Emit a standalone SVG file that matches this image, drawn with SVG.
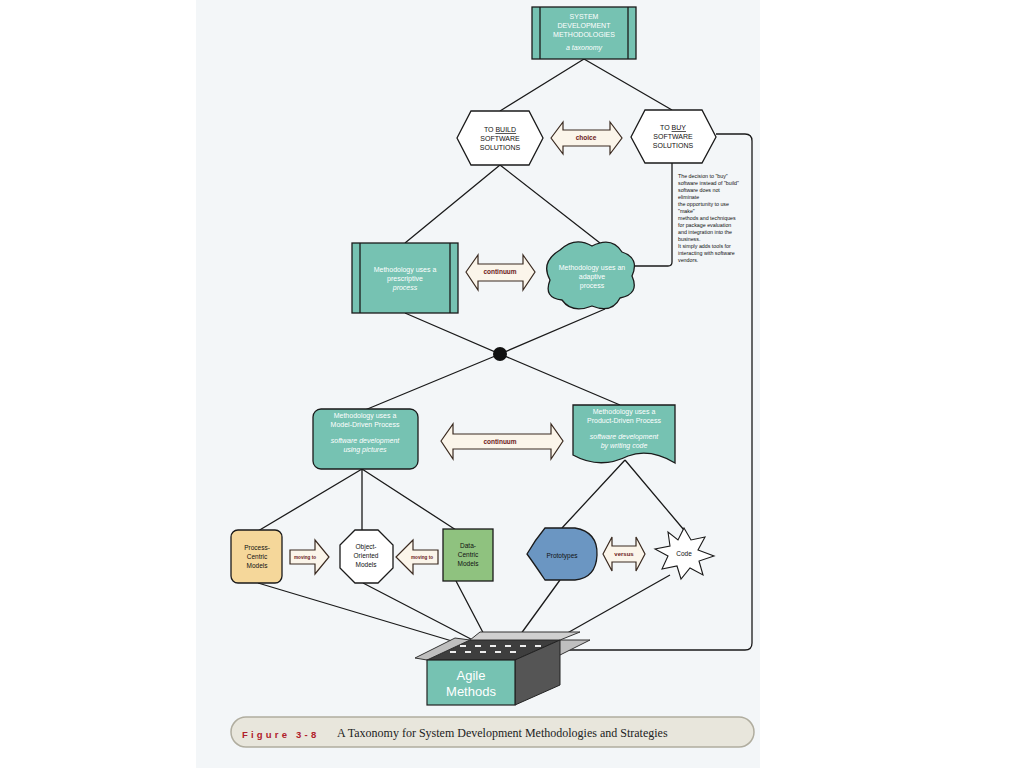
<svg xmlns="http://www.w3.org/2000/svg" width="1024" height="768" viewBox="0 0 1024 768">
<defs>
<style>
.ln{stroke:#1a1a1a;stroke-width:1.3;fill:none}
.tl{fill:#76c2b2;stroke:#1a1a1a;stroke-width:1.3}
.wt{font-family:"Liberation Sans",Arial,sans-serif;font-size:7px;fill:#fff;text-anchor:middle}
.bt{font-family:"Liberation Sans",Arial,sans-serif;font-size:7px;fill:#111;text-anchor:middle}
.st{font-family:"Liberation Sans",Arial,sans-serif;font-size:6.5px;fill:#111;text-anchor:middle}
.ar{fill:#fbf5ea;stroke:#3a2a20;stroke-width:1.2}
.al{font-family:"Liberation Sans",Arial,sans-serif;font-size:6.5px;font-weight:bold;fill:#6b1a1a;text-anchor:middle}
.sl{font-family:"Liberation Sans",Arial,sans-serif;font-size:4.6px;font-weight:bold;fill:#6b1a1a;text-anchor:middle}
.nt{font-family:"Liberation Sans",Arial,sans-serif;font-size:5.3px;fill:#111}
</style>
</defs>
<rect width="1024" height="768" fill="#fff"/>
<rect x="196" y="0" width="564" height="768" fill="#f3f6f8"/>
<g id="connectors">
<path class="ln" d="M584,59 L500,111 M584,59 L672,110"/>
<path class="ln" d="M716,134 H745 Q752,134 752,141 V643 Q752,650 745,650 H560"/>
<path class="ln" d="M672,163 V262 Q672,266 668,266 H632"/>
<path class="ln" d="M500,165 L405,243 M500,165 L600,243"/>
<path class="ln" d="M405,313 L500,354 L605,309 M500,354 L365,410 M500,354 L620,405"/>
<path class="ln" d="M362,469 L258,531 M362,469 V530 M362,469 L456,530"/>
<path class="ln" d="M625,460 L562,528 M625,460 L684,530"/>
<path class="ln" d="M258,583 L482,650 M363,583 L492,650 M456,581 L489,644 M560,580 L515,642 M670,575 L555,640"/>
</g>
<g id="top"><rect class="tl" x="532" y="7" width="104" height="52"/><path class="ln" d="M540,7V59M628,7V59"/>
<text class="wt" x="584" y="19">SYSTEM</text><text class="wt" x="584" y="28">DEVELOPMENT</text><text class="wt" x="584" y="37">METHODOLOGIES</text><text class="wt" x="584" y="50" font-style="italic">a taxonomy</text></g>
<g id="build"><polygon points="457,138 471,111 529,111 543,138 529,165 471,165" fill="#fff" stroke="#1a1a1a" stroke-width="1.3"/>
<text class="bt" x="500" y="132">TO <tspan text-decoration="underline">BUILD</tspan></text><text class="bt" x="500" y="141">SOFTWARE</text><text class="bt" x="500" y="150">SOLUTIONS</text></g>
<g id="buy"><polygon points="631,137 645,110 702,110 716,137 702,163 645,163" fill="#fff" stroke="#1a1a1a" stroke-width="1.3"/>
<text class="bt" x="673" y="130">TO <tspan text-decoration="underline">BUY</tspan></text><text class="bt" x="673" y="139">SOFTWARE</text><text class="bt" x="673" y="148">SOLUTIONS</text></g>
<g id="choice"><polygon class="ar" points="551,138 563,122 563,130 610,130 610,122 622,138 610,154 610,146 563,146 563,154"/><text class="al" x="586" y="140">choice</text></g>
<g id="note"><text class="nt" x="678" y="178">The decision to "buy"</text><text class="nt" x="678" y="185">software instead of "build"</text><text class="nt" x="678" y="192">software does not</text><text class="nt" x="678" y="199">eliminate</text><text class="nt" x="678" y="206">the opportunity to use</text><text class="nt" x="678" y="213">"make"</text><text class="nt" x="678" y="220">methods and techniques</text><text class="nt" x="678" y="227">for package evaluation</text><text class="nt" x="678" y="234">and integration into the</text><text class="nt" x="678" y="241">business.</text><text class="nt" x="678" y="248">It simply adds tools for</text><text class="nt" x="678" y="255">interacting with software</text><text class="nt" x="678" y="262">vendors.</text></g>
<g id="prescriptive"><rect class="tl" x="352" y="243" width="106" height="70"/><path class="ln" d="M360,243V313M450,243V313"/>
<text class="wt" x="405" y="272">Methodology uses a</text><text class="wt" x="405" y="281">prescriptive</text><text class="wt" x="405" y="290" font-style="italic">process</text></g>
<g id="continuum1"><polygon class="ar" points="466,272 478,255 478,264 523,264 523,255 535,272 523,290 523,281 478,281 478,290"/><text class="al" x="500" y="274">continuum</text></g>
<g id="adaptive"><path class="tl" d="M560,250 Q575,236 592,246 Q612,236 622,252 Q640,258 632,276 Q640,294 620,298 Q612,314 592,306 Q572,314 562,300 Q543,298 550,280 Q540,262 560,250Z"/>
<text class="wt" x="592" y="270">Methodology uses an</text><text class="wt" x="592" y="279">adaptive</text><text class="wt" x="592" y="288">process</text></g>
<circle cx="500" cy="354" r="7" fill="#111"/>
<g id="model"><rect class="tl" x="313" y="409" width="105" height="60" rx="8"/>
<text class="wt" x="365" y="418">Methodology uses a</text><text class="wt" x="365" y="427">Model-Driven Process</text><text class="wt" x="365" y="443" font-style="italic">software development</text><text class="wt" x="365" y="452" font-style="italic">using pictures</text></g>
<g id="continuum2"><polygon class="ar" points="441,441 453,424 453,434 551,434 551,424 563,441 551,459 551,449 453,449 453,459"/><text class="al" x="500" y="444">continuum</text></g>
<g id="product"><path class="tl" d="M573,405 H675 V463 Q650,448 628,456 Q600,470 573,455 Z"/>
<text class="wt" x="624" y="414">Methodology uses a</text><text class="wt" x="624" y="423">Product-Driven Process</text><text class="wt" x="624" y="439" font-style="italic">software development</text><text class="wt" x="624" y="448" font-style="italic">by writing code</text></g>
<g id="process"><rect x="231" y="530" width="51" height="53" rx="7" fill="#f5d79a" stroke="#1a1a1a" stroke-width="1.3"/>
<text class="st" x="257" y="550">Process-</text><text class="st" x="257" y="559">Centric</text><text class="st" x="257" y="568">Models</text></g>
<g id="moving1"><polygon class="ar" points="290,550 315,550 315,540 329,557 315,574 315,564 290,564"/><text class="sl" x="305" y="559">moving to</text></g>
<g id="oo"><polygon points="355,530 378,530 393,545 393,568 378,583 355,583 340,568 340,545" fill="#fff" stroke="#1a1a1a" stroke-width="1.3"/>
<text class="st" x="366" y="549">Object-</text><text class="st" x="366" y="558">Oriented</text><text class="st" x="366" y="567">Models</text></g>
<g id="moving2"><polygon class="ar" points="438,550 413,550 413,540 396,557 413,574 413,564 438,564"/><text class="sl" x="422" y="559">moving to</text></g>
<g id="data"><rect x="443" y="529" width="50" height="52" fill="#8fc27f" stroke="#1a1a1a" stroke-width="1.3"/>
<text class="st" x="468" y="548">Data-</text><text class="st" x="468" y="557">Centric</text><text class="st" x="468" y="566">Models</text></g>
<g id="prototypes"><path d="M545,528 H575 Q598,532 597,555 Q596,578 575,580 H545 Q535,565 527,554 Q535,540 545,528Z" fill="#6b96c2" stroke="#1a1a1a" stroke-width="1.3"/>
<text class="st" x="562" y="558">Prototypes</text></g>
<g id="versus"><polygon class="ar" points="603,554 612,537 612,546 636,546 636,537 645,554 636,571 636,562 612,562 612,571"/><text class="al" x="624" y="556" style="font-size:6px">versus</text></g>
<g id="code"><polygon points="684,528 691,540 705,537 698,550 714,556 699,561 703,575 690,568 681,579 677,566 662,569 668,556 655,549 670,546 668,532 678,540" fill="#fff" stroke="#1a1a1a" stroke-width="1.1"/>
<text class="st" x="684" y="556">Code</text></g>
<g id="agile">
<polygon points="427,660 515,660 560,640 470,640" fill="#3e3e3e" stroke="#222"/>
<polygon points="415,658 427,660 470,640 455,638" fill="#bfbfbf" stroke="#333"/>
<polygon points="515,660 560,640 590,640 560,655" fill="#bfbfbf" stroke="#333"/>
<polygon points="470,640 480,632 580,632 560,640" fill="#d0d0d0" stroke="#333"/>
<path d="M450,652h6M465,652h6M480,652h6M495,652h6M510,652h6M460,646h6M475,646h6M490,646h6M505,646h6M520,646h6M535,646h6" stroke="#eee" stroke-width="2"/>
<polygon points="515,660 560,640 560,685 515,705" fill="#555" stroke="#222"/>
<rect x="427" y="660" width="88" height="45" fill="#76c2b2" stroke="#222" stroke-width="1.2"/>
<text x="471" y="680" font-family="'Liberation Sans',Arial,sans-serif" font-size="13" fill="#fff" text-anchor="middle">Agile</text>
<text x="471" y="696" font-family="'Liberation Sans',Arial,sans-serif" font-size="13" fill="#fff" text-anchor="middle">Methods</text></g>
<g id="caption"><rect x="231" y="717" width="523" height="30" rx="15" fill="#e8e6dc" stroke="#b0ad9f" stroke-width="1.5"/>
<text x="242" y="738" font-family="'Liberation Sans',Arial,sans-serif" font-size="9.5" font-weight="bold" fill="#b0202a" letter-spacing="3.2">Figure  3-8</text>
<text x="337" y="737" font-family="'Liberation Serif','Times New Roman',serif" font-size="12" fill="#222">A Taxonomy for System Development Methodologies and Strategies</text></g>
</svg>
